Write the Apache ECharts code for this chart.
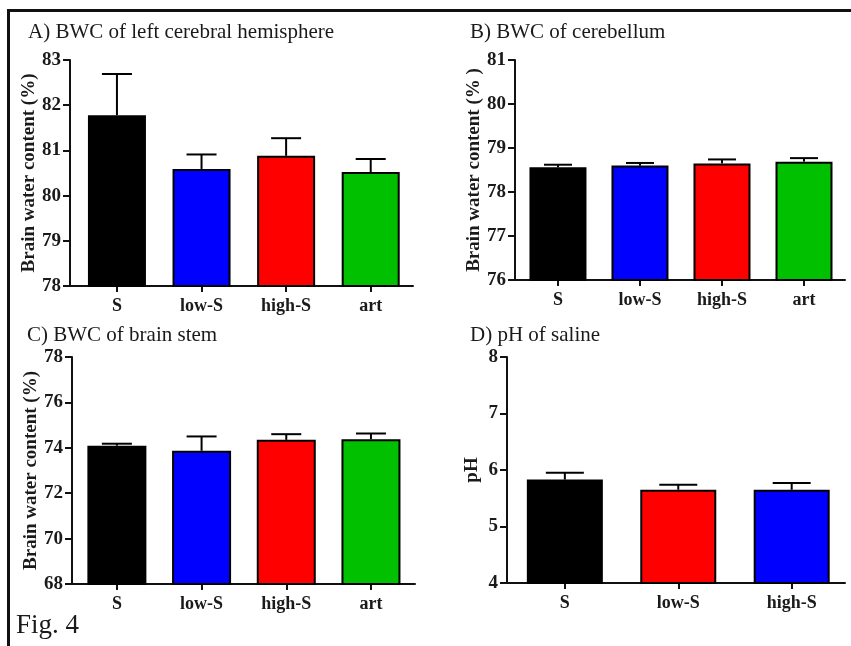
<!DOCTYPE html>
<html>
<head>
<meta charset="utf-8">
<script src="https://cdn.jsdelivr.net/npm/echarts@6/dist/echarts.min.js"></script>
<style>
html,body{margin:0;padding:0;background:#fff;}
#wrap{position:relative;width:851px;height:646px;}
#chart{position:absolute;left:0;top:0;width:851px;height:646px;}
#frame{position:absolute;left:7px;top:9px;right:0;bottom:0;border-top:3px solid #111;border-left:3px solid #111;pointer-events:none;}
</style>
</head>
<body>
<div id="wrap"><div id="chart"></div><div id="frame"></div></div>
<script>
// ---- data ----
const catsABC = ['S', 'low-S', 'high-S', 'art'];
const catsD = ['S', 'low-S', 'high-S'];
const colorsABC = ['#000000', '#0000ff', '#ff0000', '#00c000'];
const colorsD = ['#000000', '#ff0000', '#0000ff'];

const meanA = [81.78, 80.59, 80.88, 80.52];
const errA  = [0.91, 0.32, 0.39, 0.29];
const meanB = [78.56, 78.60, 78.65, 78.69];
const errB  = [0.06, 0.06, 0.09, 0.08];
const meanC = [74.09, 73.87, 74.35, 74.38];
const errC  = [0.09, 0.63, 0.25, 0.25];
const meanD = [5.83, 5.65, 5.65];
const errD  = [0.12, 0.09, 0.12];

const titles = ['A) BWC of left cerebral hemisphere', 'B) BWC of cerebellum', 'C) BWC of brain stem', 'D) pH of saline'];
const yNames = ['Brain water content (%)', 'Brain water content (% )', 'Brain water content (%)', 'pH'];
const yRanges = [[78, 83, 1], [76, 81, 1], [68, 78, 2], [4, 8, 1]];

// ---- layout ----
const grids = [
  {left: 70, top: 60, width: 343, height: 226},
  {left: 515, top: 60, width: 330, height: 220},
  {left: 72, top: 357, width: 343, height: 227},
  {left: 507, top: 357, width: 338, height: 226}
];
const xRanges = [[-0.555, 3.5], [-0.524, 3.5], [-0.53, 3.52], [-0.51, 2.47]];
const barWidths = [58, 57, 59, 76];
const capWidths = [30, 28, 30, 38];
const nameGaps = [23, 28, 26, 25];
const titlePos = [[28, 22], [470, 22], [27, 325], [470, 325]];

const panels = [
  {cats: catsABC, colors: colorsABC, mean: meanA, err: errA},
  {cats: catsABC, colors: colorsABC, mean: meanB, err: errB},
  {cats: catsABC, colors: colorsABC, mean: meanC, err: errC},
  {cats: catsD, colors: colorsD, mean: meanD, err: errD}
];

const serif = '"Liberation Serif", "Times New Roman", serif';
const textColor = '#1a1a1a';

const option = {
  backgroundColor: '#fff',
  animation: false,
  title: titles.map((t, i) => ({
    text: t, left: titlePos[i][0], top: titlePos[i][1], padding: 0,
    textStyle: {fontFamily: serif, fontSize: 21, fontWeight: 'normal', color: textColor}
  })).concat([{
    text: 'Fig. 4', left: 16, top: 612, padding: 0,
    textStyle: {fontFamily: serif, fontSize: 27, fontWeight: 'normal', color: textColor}
  }]),
  grid: grids.map(g => Object.assign({containLabel: false}, g)),
  xAxis: panels.map((p, i) => ({
    type: 'value', gridIndex: i, min: xRanges[i][0], max: xRanges[i][1],
    splitLine: {show: false},
    axisLine: {show: true, onZero: false, lineStyle: {color: '#111', width: 2}},
    axisTick: {show: true, length: 6, lineStyle: {color: '#111', width: 2}, customValues: p.cats.map((c, k) => k)},
    axisLabel: {
      show: true, margin: 11, customValues: p.cats.map((c, k) => k),
      formatter: v => p.cats[Math.round(v)] || '',
      fontFamily: serif, fontSize: 18, fontWeight: 'bold', color: textColor
    }
  })),
  yAxis: panels.map((p, i) => ({
    type: 'value', gridIndex: i, min: yRanges[i][0], max: yRanges[i][1], interval: yRanges[i][2],
    splitLine: {show: false},
    axisLine: {show: true, onZero: false, lineStyle: {color: '#111', width: 2}},
    axisTick: {show: true, length: 7, lineStyle: {color: '#111', width: 2}},
    axisLabel: {margin: 9, fontFamily: serif, fontSize: 19, fontWeight: 'bold', color: textColor},
    name: yNames[i], nameLocation: 'middle', nameGap: nameGaps[i], nameRotate: 90,
    nameTextStyle: {fontFamily: serif, fontSize: 19, fontWeight: 'bold', color: textColor}
  })),
  series: []
};

panels.forEach((p, i) => {
  option.series.push({
    type: 'bar', xAxisIndex: i, yAxisIndex: i, barWidth: barWidths[i], clip: true,
    data: p.mean.map((m, k) => ({value: [k, m], itemStyle: {color: p.colors[k]}})),
    itemStyle: {borderColor: '#000', borderWidth: 2},
    z: 2
  });
  option.series.push({
    type: 'custom', xAxisIndex: i, yAxisIndex: i, z: 3,
    data: p.mean.map((m, k) => [k, m, p.err[k]]),
    encode: {x: 0, y: 1},
    renderItem: (params, api) => {
      const x = api.value(0), m = api.value(1), e = api.value(2);
      const p0 = api.coord([x, m]);
      const p1 = api.coord([x, m + e]);
      const cw = capWidths[i] / 2;
      const st = {stroke: '#000', lineWidth: 2};
      return {type: 'group', children: [
        {type: 'line', shape: {x1: p0[0], y1: p0[1], x2: p1[0], y2: p1[1]}, style: st},
        {type: 'line', shape: {x1: p1[0] - cw, y1: p1[1], x2: p1[0] + cw, y2: p1[1]}, style: st}
      ]};
    }
  });
});

const chart = echarts.init(document.getElementById('chart'), null, {renderer: 'canvas'});
chart.setOption(option);
</script>
</body>
</html>
